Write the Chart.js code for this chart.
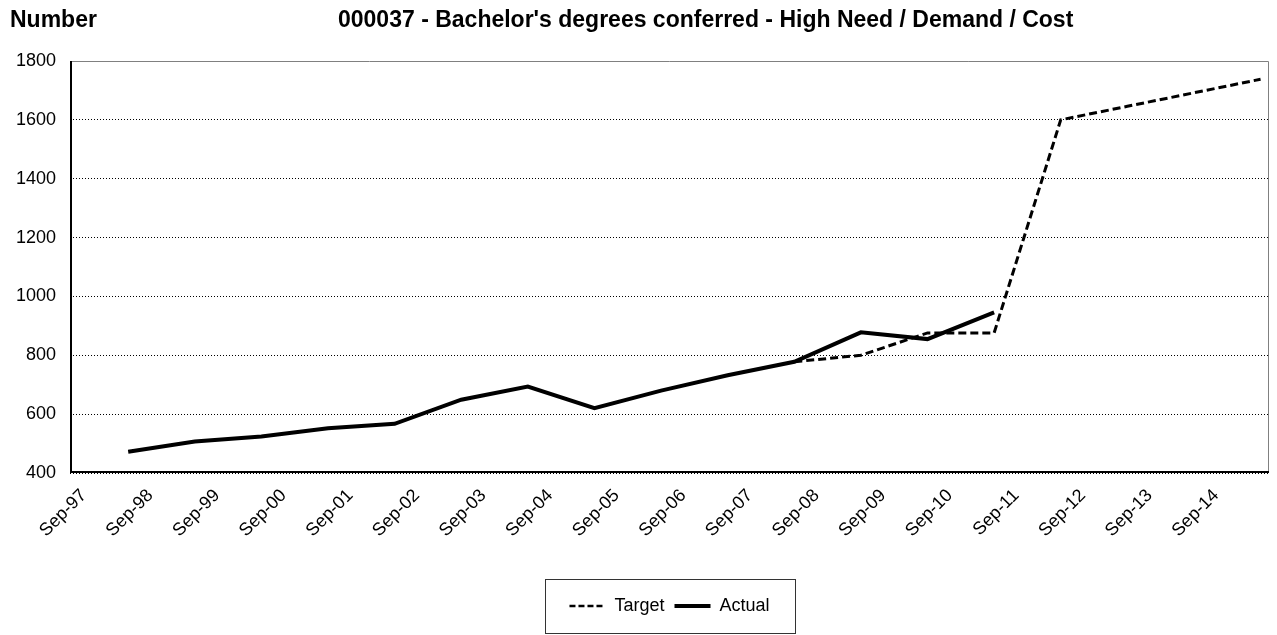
<!DOCTYPE html>
<html lang="en">
<head>
    <meta charset="UTF-8">
    <title>Bachelor's degrees conferred</title>
    <script src="https://cdn.jsdelivr.net/npm/chart.js"></script>
    <style>
        body { margin: 0; background: #fff; }
        #grafico { display: block; }
    </style>
</head>
<body>
<canvas id="grafico" width="1277" height="635"></canvas>

<script>
  // dados
  var xTickLabels = ['Sep-97', 'Sep-98', 'Sep-99', 'Sep-00', 'Sep-01', 'Sep-02', 'Sep-03', 'Sep-04', 'Sep-05',
                     'Sep-06', 'Sep-07', 'Sep-08', 'Sep-09', 'Sep-10', 'Sep-11', 'Sep-12', 'Sep-13', 'Sep-14'];
  var actualYears = [1998, 1999, 2000, 2001, 2002, 2003, 2004, 2005, 2006, 2007, 2008, 2009, 2010, 2011];
  var actualValues = [472, 507, 524, 552, 567, 649, 694, 620, 680, 732, 778, 878, 855, 946];
  var targetYears = [2008, 2009, 2010, 2011, 2012, 2013, 2014, 2015];
  var targetValues = [778, 800, 876, 876, 1600, 1646, 1692, 1738];
  var yTicks = [400, 600, 800, 1000, 1200, 1400, 1600, 1800];

  var titulo = "000037 - Bachelor's degrees conferred - High Need / Demand / Cost";
  var tituloEsq = 'Number';

  // eixo x em anos decimais (rotulo em setembro, pontos em maio)
  var xMin = 1997.46;
  var xMax = xMin + 18;
  var offsetSet = 8 / 12;
  var offsetPonto = 4 / 12;

  function anoDoRotulo(r) {
      var yy = Number(r.split('-')[1]);
      return (yy > 50 ? 1900 : 2000) + yy + offsetSet;
  }
  var tickValues = xTickLabels.map(anoDoRotulo);

  function pontos(anos, valores) {
      var out = [];
      for (var i = 0; i < anos.length; i++) {
          out.push({ x: anos[i] + offsetPonto, y: valores[i] });
      }
      return out;
  }

  Chart.defaults.font.family = "'Liberation Sans', Arial, sans-serif";
  Chart.defaults.color = '#000';

  var tituloPlugin = {
      id: 'tituloPlugin',
      afterDraw: function (chart) {
          var ctx = chart.ctx;
          ctx.save();
          ctx.fillStyle = '#000';
          ctx.font = "bold 23px 'Liberation Sans', Arial, sans-serif";
          ctx.textBaseline = 'alphabetic';
          ctx.textAlign = 'left';
          ctx.fillText(tituloEsq, 10, 27);
          ctx.fillText(titulo, 338, 27);
          ctx.restore();
      }
  };

  var LARG_AMOSTRA = 36;

  var molduraPlugin = {
      id: 'molduraPlugin',
      beforeDatasetsDraw: function (chart) {
          var a = chart.chartArea;
          var ctx = chart.ctx;
          ctx.save();
          ctx.strokeStyle = '#808080';
          ctx.lineWidth = 1;
          ctx.beginPath();
          ctx.moveTo(a.left, a.top + 0.5);
          ctx.lineTo(a.right - 0.5, a.top + 0.5);
          ctx.lineTo(a.right - 0.5, a.bottom);
          ctx.stroke();
          ctx.strokeStyle = '#000';
          ctx.lineWidth = 2;
          ctx.beginPath();
          ctx.moveTo(a.left + 1, a.top);
          ctx.lineTo(a.left + 1, a.bottom - 1);
          ctx.lineTo(a.right, a.bottom - 1);
          ctx.stroke();
          ctx.restore();
      },
      afterDraw: function (chart) {
          var lg = chart.legend;
          if (!lg || !lg.legendHitBoxes.length) return;
          var hb = lg.legendHitBoxes;
          var ctx = chart.ctx;
          ctx.save();
          // amostras das linhas na legenda
          for (var i = 0; i < hb.length; i++) {
              var ds = chart.data.datasets[lg.legendItems[i].datasetIndex];
              var yc = Math.round(hb[i].top + hb[i].height / 2);
              ctx.strokeStyle = '#000';
              ctx.lineWidth = ds.borderDash ? 2.5 : 4;
              ctx.setLineDash(ds.borderDash ? [6, 3] : []);
              ctx.beginPath();
              ctx.moveTo(hb[i].left, yc);
              ctx.lineTo(hb[i].left + LARG_AMOSTRA, yc);
              ctx.stroke();
          }
          ctx.setLineDash([]);
          var esq = hb[0].left;
          var dir = hb[hb.length - 1].left + hb[hb.length - 1].width;
          var cx = (esq + dir) / 2;
          var cy = hb[0].top + hb[0].height / 2;
          ctx.strokeStyle = '#333';
          ctx.lineWidth = 1;
          ctx.strokeRect(Math.round(cx - 125) + 0.5, Math.round(cy - 27) + 0.5, 250, 54);
          ctx.restore();
      }
  };

  var config = {
      type: 'line',
      data: {
          datasets: [{
              label: 'Target',
              data: pontos(targetYears, targetValues),
              borderColor: '#000',
              backgroundColor: '#000',
              borderWidth: 3,
              borderDash: [8, 4],
              pointRadius: 0,
              tension: 0
          }, {
              label: 'Actual',
              data: pontos(actualYears, actualValues),
              borderColor: '#000',
              backgroundColor: '#000',
              borderWidth: 4,
              pointRadius: 0,
              tension: 0
          }]
      },
      options: {
          responsive: false,
          animation: false,
          layout: { padding: { left: 8, right: 8, top: 61, bottom: 10 } },
          scales: {
              x: {
                  type: 'linear',
                  min: xMin,
                  max: xMax,
                  grid: { display: false, drawTicks: false },
                  border: { display: false },
                  afterBuildTicks: function (scale) {
                      scale.ticks = tickValues.map(function (v) { return { value: v }; });
                  },
                  afterFit: function (scale) { scale.height = 114; },
                  ticks: {
                      autoSkip: false,
                      minRotation: 45,
                      maxRotation: 45,
                      padding: 12,
                      font: { size: 18 },
                      callback: function (value, index) { return xTickLabels[index]; }
                  }
              },
              y: {
                  min: 400,
                  max: 1800,
                  afterBuildTicks: function (scale) {
                      scale.ticks = yTicks.map(function (v) { return { value: v }; });
                  },
                  afterFit: function (scale) { scale.width = 62; },
                  grid: { color: '#000', lineWidth: 1, drawTicks: false },
                  border: { display: false, dash: [1, 2] },
                  ticks: {
                      padding: 14,
                      font: { size: 18 },
                      callback: function (value) { return String(value); }
                  }
              }
          },
          plugins: {
              legend: {
                  position: 'bottom',
                  fullSize: false,
                  labels: {
                      boxWidth: LARG_AMOSTRA,
                      boxHeight: 0,
                      padding: 10,
                      font: { size: 18 },
                      color: '#000',
                      generateLabels: function (chart) {
                          var itens = Chart.defaults.plugins.legend.labels.generateLabels(chart);
                          itens.forEach(function (it) {
                              it.fillStyle = 'rgba(0,0,0,0)';
                              it.strokeStyle = 'rgba(0,0,0,0)';
                              it.lineWidth = 0;
                          });
                          return itens;
                      }
                  }
              },
              tooltip: { enabled: false }
          }
      },
      plugins: [tituloPlugin, molduraPlugin]
  };

  new Chart(document.getElementById('grafico'), config);
</script>
</body>
</html>
